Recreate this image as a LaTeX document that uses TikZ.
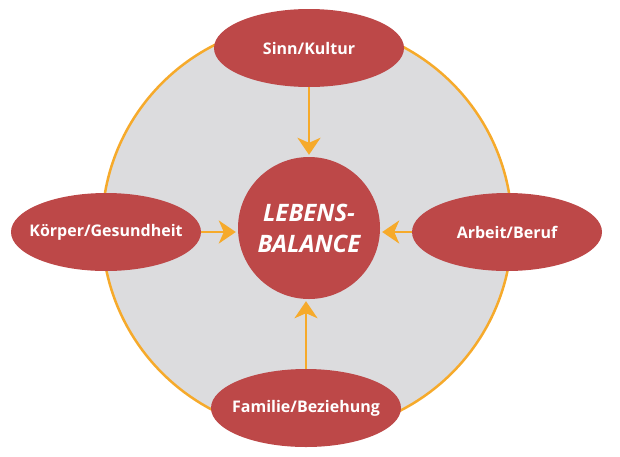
\documentclass[tikz,border=0pt]{standalone}
\usepackage{fontspec}
\setmainfont{Open Sans}
\usetikzlibrary{shapes.geometric,arrows.meta}
\definecolor{balred}{HTML}{BD4848}
\definecolor{balgray}{HTML}{DCDCDE}
\definecolor{balorange}{HTML}{F6AA2B}
\begin{document}
\begin{tikzpicture}[x=1pt,y=-1pt,
  area/.style={ellipse,fill=balred,text=white,inner xsep=-12pt,inner ysep=0pt,
    minimum width=190pt,minimum height=78pt,
    font=\bfseries\fontsize{16}{20}\selectfont},
  push/.style={draw=balorange,line width=2.8pt,shorten >=2pt,
    -{Stealth[length=17pt,width=23pt,inset=5pt]}}]
  \useasboundingbox (0,0) rectangle (620,456);
  \draw[balorange,line width=2.5pt,fill=balgray] (307,228) circle [radius=205];

  \node[circle,fill=balred,text=white,inner sep=0pt,minimum size=142pt,align=center,
    font=\bfseries\itshape\fontsize{24}{31}\selectfont] (balance) at (309,228) {LEBENS-\\BALANCE};

  \node[area] (sinn) at (309,48) {Sinn/Kultur};
  \node[area] (koerper) at (106,232) {Körper/Gesundheit};
  \node[area] (arbeit) at (507,232) {Arbeit/Beruf};
  \node[area] (familie) at (306,408) {Familie/Beziehung};

  \draw[push] (sinn.south) -- (sinn.south |- balance.north);
  \draw[push] (koerper.east) -- (koerper.east -| balance.west);
  \draw[push] (arbeit.west) -- (arbeit.west -| balance.east);
  \draw[push] (familie.north) -- (familie.north |- balance.south);
\end{tikzpicture}
\end{document}
